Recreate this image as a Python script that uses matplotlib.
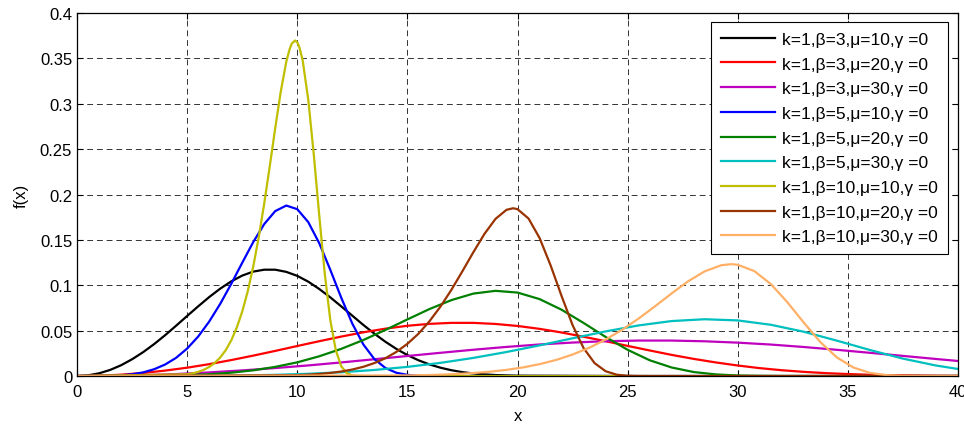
import matplotlib
matplotlib.use('Agg')
import matplotlib.pyplot as plt

# Weibull pdf curves
x1 = [0, 0.5, 1, 1.5, 2, 2.5, 3, 3.5, 4, 4.5, 5, 5.5, 6, 6.5, 7, 7.5, 8, 8.5, 9, 9.5,
      10, 10.5, 11, 11.5, 12, 12.5, 13, 13.5, 14, 14.5, 15, 15.5, 16, 16.5, 17, 17.5,
      18, 18.5, 19, 19.5, 20, 25, 30, 35, 40]
y1 = [0, 0.00075, 0.0030, 0.0067, 0.0119, 0.0185, 0.0263, 0.0352, 0.0450, 0.0555,
      0.0662, 0.0768, 0.0870, 0.0963, 0.1043, 0.1107, 0.1151, 0.1172, 0.1172, 0.1148,
      0.1104, 0.1040, 0.0959, 0.0867, 0.0767, 0.0665, 0.0563, 0.0467, 0.0378, 0.0299,
      0.0231, 0.0174, 0.0128, 0.0092, 0.0064, 0.0043, 0.0028, 0.0018, 0.0011, 0.0007,
      0.0004, 0, 0, 0, 0]

x2 = list(range(0, 41))
y2 = [0, 0.0004, 0.0015, 0.0034, 0.0060, 0.0092, 0.0131, 0.0176, 0.0225, 0.0277,
      0.0331, 0.0384, 0.0435, 0.0482, 0.0522, 0.0554, 0.0575, 0.0586, 0.0586, 0.0574,
      0.0552, 0.0520, 0.0480, 0.0433, 0.0384, 0.0332, 0.0282, 0.0233, 0.0189, 0.0150,
      0.0116, 0.0087, 0.0064, 0.0046, 0.0032, 0.0022, 0.0014, 0.0009, 0.0006, 0.0003,
      0.0002]

x3 = [0, 1.5, 3, 4.5, 6, 7.5, 9, 10.5, 12, 13.5, 15, 16.5, 18, 19.5, 21, 22.5, 24,
      25.5, 27, 28.5, 30, 31.5, 33, 34.5, 36, 37.5, 39, 40]
y3 = [0, 0.00025, 0.0010, 0.0022, 0.0040, 0.0062, 0.0088, 0.0117, 0.0150, 0.0185,
      0.0221, 0.0256, 0.0290, 0.0321, 0.0348, 0.0369, 0.0384, 0.0391, 0.0391, 0.0383,
      0.0368, 0.0347, 0.0320, 0.0289, 0.0256, 0.0222, 0.0188, 0.0166]

x4 = [0, 1, 1.5, 2, 2.5, 3, 3.5, 4, 4.5, 5, 5.5, 6, 6.5, 7, 7.5, 8, 8.5, 9, 9.5, 10,
      10.5, 11, 11.5, 12, 12.5, 13, 13.5, 14, 14.5, 15, 15.5, 16, 20, 30, 40]
y4 = [0, 0.00005, 0.00025, 0.0008, 0.00195, 0.0040, 0.0075, 0.0127, 0.0201, 0.0303,
      0.0435, 0.0600, 0.0795, 0.1015, 0.1248, 0.1476, 0.1675, 0.1818, 0.1879, 0.1839,
      0.1696, 0.1463, 0.1170, 0.0861, 0.0577, 0.0348, 0.0187, 0.0089, 0.0036, 0.0013,
      0.0004, 0.0001, 0, 0, 0]

x5 = list(range(0, 33)) + [36, 40]
y5 = [0, 0, 0.00003, 0.00013, 0.0004, 0.00098, 0.0020, 0.0037, 0.0063, 0.0101,
      0.0151, 0.0218, 0.0300, 0.0397, 0.0508, 0.0624, 0.0738, 0.0837, 0.0909, 0.0939,
      0.0920, 0.0848, 0.0731, 0.0585, 0.0431, 0.0289, 0.0174, 0.0094, 0.0044, 0.0018,
      0.0006, 0.0002, 0.00005, 0, 0]

x6 = x3
y6 = [0, 0, 0.00002, 0.00008, 0.00027, 0.00065, 0.00135, 0.0025, 0.0042, 0.0067,
      0.0101, 0.0145, 0.0200, 0.0265, 0.0338, 0.0416, 0.0492, 0.0558, 0.0606, 0.0626,
      0.0613, 0.0565, 0.0488, 0.0390, 0.0287, 0.0192, 0.0116, 0.0078]

x7 = [0, 5, 5.25, 5.5, 5.75, 6, 6.25, 6.5, 6.75, 7, 7.25, 7.5, 7.75, 8, 8.25, 8.5,
      8.75, 9, 9.25, 9.5, 9.65, 9.75, 9.9, 10, 10.1, 10.25, 10.5, 10.75, 11, 11.25,
      11.5, 11.75, 12, 12.25, 12.5, 12.75, 13, 40]
y7 = [0, 0.00195, 0.0030, 0.0046, 0.0068, 0.0100, 0.0144, 0.0204, 0.0285, 0.0392,
      0.0532, 0.0710, 0.0933, 0.1206, 0.1530, 0.1902, 0.2311, 0.2734, 0.3134, 0.3463,
      0.3600, 0.3664, 0.3698, 0.3679, 0.3620, 0.3472, 0.3043, 0.2441, 0.1763, 0.1123,
      0.0616, 0.0283, 0.0106, 0.0031, 0.0007, 0.0001, 0, 0]

x8 = [0, 10, 10.5, 11, 11.5, 12, 12.5, 13, 13.5, 14, 14.5, 15, 15.5, 16, 16.5, 17,
      17.5, 18, 18.5, 19, 19.5, 19.8, 20, 20.5, 21, 21.5, 22, 22.5, 23, 23.5, 24,
      24.5, 25, 25.5, 26, 40]
y8 = [0, 0.00098, 0.0015, 0.0023, 0.0034, 0.0050, 0.0072, 0.0102, 0.0143, 0.0196,
      0.0266, 0.0355, 0.0466, 0.0603, 0.0765, 0.0951, 0.1156, 0.1367, 0.1567, 0.1732,
      0.1832, 0.1849, 0.1839, 0.1736, 0.1522, 0.1221, 0.0882, 0.0561, 0.0308, 0.0142,
      0.0053, 0.0015, 0.0003, 0.00005, 0, 0]

x9 = [0, 15, 15.75, 16.5, 17.25, 18, 18.75, 19.5, 20.25, 21, 21.75, 22.5, 23.25, 24,
      24.75, 25.5, 26.25, 27, 27.75, 28.5, 29.25, 29.7, 30, 30.75, 31.5, 32.25, 33,
      33.75, 34.5, 35.25, 36, 36.75, 37.5, 38.25, 39, 40]
y9 = [0, 0.00065, 0.0010, 0.0015, 0.0023, 0.0033, 0.0048, 0.0068, 0.0095, 0.0131,
      0.0177, 0.0237, 0.0311, 0.0402, 0.0510, 0.0634, 0.0770, 0.0911, 0.1045, 0.1154,
      0.1221, 0.1233, 0.1226, 0.1157, 0.1014, 0.0814, 0.0588, 0.0374, 0.0205, 0.0094,
      0.0035, 0.0010, 0.0002, 0.00003, 0, 0]

labels = ['k=1,\u03b2=3,\u03bc=10,\u03b3 =0', 'k=1,\u03b2=3,\u03bc=20,\u03b3 =0',
          'k=1,\u03b2=3,\u03bc=30,\u03b3 =0', 'k=1,\u03b2=5,\u03bc=10,\u03b3 =0',
          'k=1,\u03b2=5,\u03bc=20,\u03b3 =0', 'k=1,\u03b2=5,\u03bc=30,\u03b3 =0',
          'k=1,\u03b2=10,\u03bc=10,\u03b3 =0', 'k=1,\u03b2=10,\u03bc=20,\u03b3 =0',
          'k=1,\u03b2=10,\u03bc=30,\u03b3 =0']
colors = ['k', 'r', 'm', 'b', (0, 0.5, 0), (0, 0.75, 0.75), (0.75, 0.75, 0),
          (0.6, 0.2, 0), (1, 0.69, 0.4)]

xs = [x1, x2, x3, x4, x5, x6, x7, x8, x9]
ys = [y1, y2, y3, y4, y5, y6, y7, y8, y9]

plt.rcParams['font.family'] = ['Liberation Sans', 'DejaVu Sans']

fig = plt.figure(figsize=(9.64, 4.27), dpi=100)
ax = fig.add_axes([0.0799, 0.117, 0.9139, 0.850])

for x, y, c, lab in zip(xs, ys, colors, labels):
    ax.plot(x, y, color=c, linewidth=1.6, label=lab)

ax.set_xlim(0, 40)
ax.set_ylim(0, 0.4)
ax.set_xticks(range(0, 41, 5))
ax.set_yticks([0, 0.05, 0.1, 0.15, 0.2, 0.25, 0.3, 0.35, 0.4])
ax.set_yticklabels(['0', '0.05', '0.1', '0.15', '0.2', '0.25', '0.3', '0.35', '0.4'])
ax.tick_params(direction='in', top=True, right=True, length=4, labelsize=12)
ax.tick_params(axis='x', pad=5.5)
ax.tick_params(axis='y', pad=3.5)
ax.grid(True, color='k', linestyle=(0, (6, 4)), linewidth=0.7, alpha=0.8)
for s in ax.spines.values():
    s.set_linewidth(0.9)

ax.set_xlabel('x', fontsize=12, labelpad=7)
ax.set_ylabel('f(x)', fontsize=12, labelpad=8)

leg = ax.legend(loc='upper right', bbox_to_anchor=(0.9885, 0.975), fontsize=12.5,
                fancybox=False, framealpha=1, edgecolor='k', handlelength=3.1,
                handletextpad=0.45, labelspacing=0.55, borderpad=0.55,
                borderaxespad=0)
leg.get_frame().set_linewidth(0.8)

fig.savefig('out.png', dpi=100)
